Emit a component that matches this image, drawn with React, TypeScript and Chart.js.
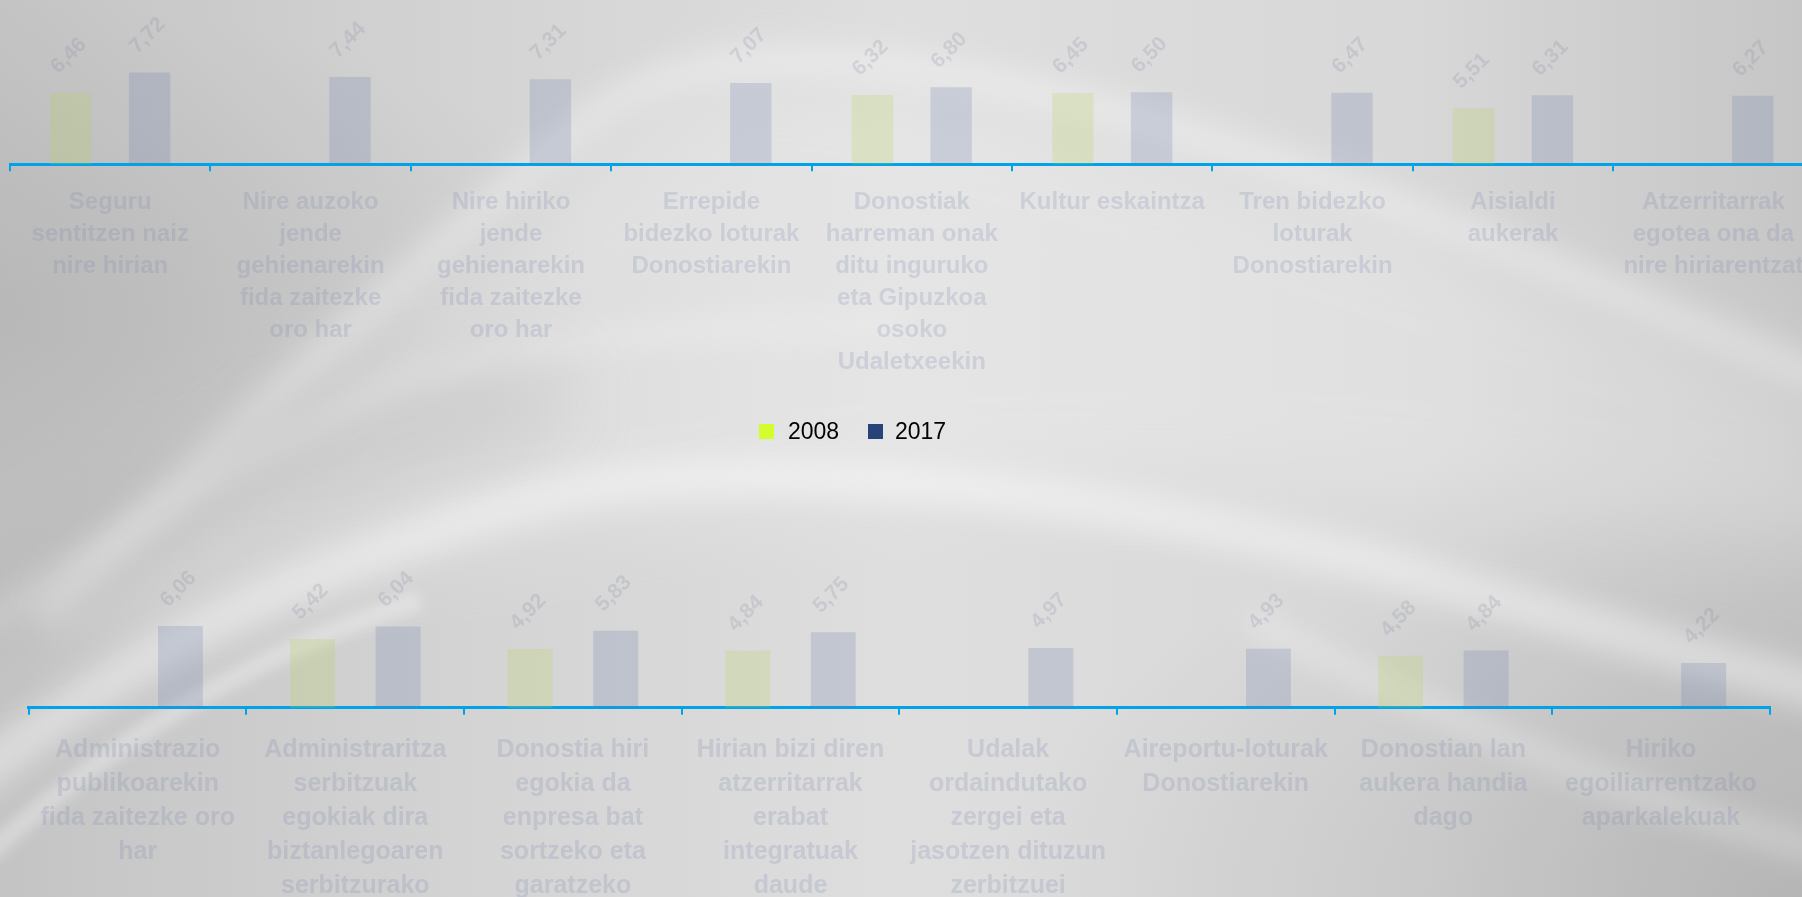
import React, { useEffect, useRef } from 'react';
import { Chart, registerables } from 'chart.js';

Chart.register(...registerables);

// ---------- data ----------
const seriesNames = ['2008', '2017'];

const topCategories: string[][] = [
  ['Seguru', 'sentitzen naiz', 'nire hirian'],
  ['Nire auzoko', 'jende', 'gehienarekin', 'fida zaitezke', 'oro har'],
  ['Nire hiriko', 'jende', 'gehienarekin', 'fida zaitezke', 'oro har'],
  ['Errepide', 'bidezko loturak', 'Donostiarekin'],
  ['Donostiak', 'harreman onak', 'ditu inguruko', 'eta Gipuzkoa', 'osoko', 'Udaletxeekin'],
  ['Kultur eskaintza'],
  ['Tren bidezko', 'loturak', 'Donostiarekin'],
  ['Aisialdi', 'aukerak'],
  ['Atzerritarrak', 'egotea ona da', 'nire hiriarentzat'],
];
const top2008: (number | null)[] = [6.46, null, null, null, 6.32, 6.45, null, 5.51, null];
const top2017: (number | null)[] = [7.72, 7.44, 7.31, 7.07, 6.8, 6.5, 6.47, 6.31, 6.27];

const bottomCategories: string[][] = [
  ['Administrazio', 'publikoarekin', 'fida zaitezke oro', 'har'],
  ['Administraritza', 'serbitzuak', 'egokiak dira', 'biztanlegoaren', 'serbitzurako'],
  ['Donostia hiri', 'egokia da', 'enpresa bat', 'sortzeko eta', 'garatzeko'],
  ['Hirian bizi diren', 'atzerritarrak', 'erabat', 'integratuak', 'daude'],
  ['Udalak', 'ordaindutako', 'zergei eta', 'jasotzen dituzun', 'zerbitzuei'],
  ['Aireportu-loturak', 'Donostiarekin'],
  ['Donostian lan', 'aukera handia', 'dago'],
  ['Hiriko', 'egoiliarrentzako', 'aparkalekuak'],
];
const bottom2008: (number | null)[] = [null, 5.42, 4.92, 4.84, null, null, 4.58, null];
const bottom2017: (number | null)[] = [6.06, 6.04, 5.83, 5.75, 4.97, 4.93, 4.84, 4.22];

// ---------- styles ----------
const legendColors = ['#d4fc2f', '#264478'];
const barFills = ['rgba(183,208,83,0.22)', 'rgba(105,125,170,0.22)'];
const AXIS = 'rgb(0,162,232)';
const LABEL = 'rgba(120,132,175,0.21)';
const VALUE_LABEL = 'rgba(120,128,160,0.2)';
const FONT = '"Liberation Sans", Arial, Helvetica, sans-serif';

const fmt = (v: number) => v.toFixed(2).replace('.', ',');

const valueLabelPlugin = {
  id: 'valueLabels',
  afterDatasetsDraw(chart: any) {
    const ctx = chart.ctx;
    chart.data.datasets.forEach((ds: any, i: number) => {
      const meta = chart.getDatasetMeta(i);
      meta.data.forEach((bar: any, j: number) => {
        const v = ds.data[j];
        if (v == null) return;
        ctx.save();
        ctx.translate(bar.x - 2, bar.y - 37);
        ctx.rotate(-Math.PI / 4);
        ctx.font = `bold 21px ${FONT}`;
        ctx.fillStyle = VALUE_LABEL;
        ctx.textAlign = 'center';
        ctx.textBaseline = 'middle';
        ctx.fillText(fmt(v), 0, 0);
        ctx.restore();
      });
    });
  },
};

type PanelProps = {
  labels: string[][];
  a: (number | null)[];
  b: (number | null)[];
  left: number;
  top: number;
  width: number;
  height: number;
  padding: { left: number; right: number; top: number; bottom: number };
  yMax: number;
  axisHeight: number;
  fontSize: number;
  lineHeight: number;
  tickPad: number;
};

function BarPanel(p: PanelProps) {
  const ref = useRef<HTMLCanvasElement>(null);
  useEffect(() => {
    const chart = new Chart(ref.current as HTMLCanvasElement, {
      type: 'bar',
      data: {
        labels: p.labels,
        datasets: [
          { label: seriesNames[0], data: p.a, backgroundColor: barFills[0] },
          { label: seriesNames[1], data: p.b, backgroundColor: barFills[1] },
        ],
      },
      options: {
        animation: false,
        responsive: false,
        maintainAspectRatio: false,
        devicePixelRatio: 1,
        layout: { padding: p.padding },
        datasets: { bar: { categoryPercentage: 0.786, barPercentage: 0.525 } },
        plugins: { legend: { display: false }, tooltip: { enabled: false } },
        scales: {
          x: {
            z: 1,
            grid: {
              offset: true,
              drawOnChartArea: false,
              drawTicks: true,
              tickLength: 7,
              color: AXIS,
              lineWidth: 2,
            },
            border: { display: true, color: AXIS, width: 3 },
            ticks: {
              autoSkip: false,
              maxRotation: 0,
              minRotation: 0,
              padding: p.tickPad,
              color: LABEL,
              font: { family: FONT, size: p.fontSize, weight: 'bold', lineHeight: p.lineHeight },
            },
            afterFit: (s: any) => {
              s.height = p.axisHeight;
            },
          },
          y: { display: false, min: 2, max: p.yMax },
        },
      } as any,
      plugins: [valueLabelPlugin],
    });
    return () => chart.destroy();
  }, []);
  return (
    <canvas
      ref={ref}
      width={p.width}
      height={p.height}
      style={{ position: 'absolute', left: p.left, top: p.top, width: p.width, height: p.height, display: 'block' }}
    />
  );
}

function Background() {
  return (
    <svg width={1802} height={897} style={{ position: 'absolute', left: 0, top: 0 }}>
      <defs>
        <linearGradient id="bgg" x1="0" y1="0" x2="1" y2="0">
          <stop offset="0" stopColor="#c4c4c4" />
          <stop offset="0.25" stopColor="#d3d3d3" />
          <stop offset="0.5" stopColor="#dedede" />
          <stop offset="0.78" stopColor="#d8d8d8" />
          <stop offset="1" stopColor="#c6c6c6" />
        </linearGradient>
        <radialGradient id="br" cx="1" cy="1" r="0.45">
          <stop offset="0" stopColor="#a8a8a8" stopOpacity="0.55" />
          <stop offset="1" stopColor="#a8a8a8" stopOpacity="0" />
        </radialGradient>
        <radialGradient id="tl" cx="0" cy="0.35" r="0.35">
          <stop offset="0" stopColor="#a8a8a8" stopOpacity="0.45" />
          <stop offset="1" stopColor="#a8a8a8" stopOpacity="0" />
        </radialGradient>
        <filter id="b40" x="-20%" y="-50%" width="140%" height="200%">
          <feGaussianBlur stdDeviation="40" />
        </filter>
        <filter id="b14" x="-20%" y="-50%" width="140%" height="200%">
          <feGaussianBlur stdDeviation="14" />
        </filter>
        <filter id="b6" x="-20%" y="-50%" width="140%" height="200%">
          <feGaussianBlur stdDeviation="6" />
        </filter>
      </defs>
      <rect x={0} y={0} width={1802} height={897} fill="url(#bgg)" />
      <rect x={0} y={0} width={1802} height={897} fill="url(#tl)" />
      <rect x={0} y={0} width={1802} height={897} fill="url(#br)" />
      {/* light hill interior */}
      <path
        d="M 69 600 C 200 470, 470 220, 713 70 C 1000 70, 1300 190, 1850 380 L 1850 560 C 1400 470, 900 430, 69 640 Z"
        fill="#ffffff"
        opacity={0.22}
        filter="url(#b40)"
      />
      {/* hill edge */}
      <path
        d="M 40 620 C 180 480, 420 260, 600 110 C 680 60, 760 55, 850 62 C 1100 80, 1400 200, 1850 390"
        stroke="#ffffff"
        strokeWidth={30}
        fill="none"
        opacity={0.3}
        filter="url(#b14)"
      />
      {/* dark band between swooshes on the left */}
      <path
        d="M -60 640 C 120 520, 300 430, 560 400"
        stroke="#9a9a9a"
        strokeWidth={70}
        fill="none"
        opacity={0.22}
        filter="url(#b40)"
      />
      {/* band A */}
      <path
        d="M -40 640 C 80 560, 230 460, 402 380 C 520 340, 700 325, 900 324"
        stroke="#ffffff"
        strokeWidth={22}
        fill="none"
        opacity={0.22}
        filter="url(#b14)"
      />
      {/* band B */}
      <path
        d="M -40 790 C 120 660, 300 560, 574 490 C 760 460, 1050 480, 1380 565 C 1560 615, 1700 660, 1860 700"
        stroke="#ffffff"
        strokeWidth={40}
        fill="none"
        opacity={0.4}
        filter="url(#b14)"
      />
      {/* lower-left streak */}
      <path
        d="M -60 900 C 80 760, 230 660, 420 600"
        stroke="#ffffff"
        strokeWidth={20}
        fill="none"
        opacity={0.3}
        filter="url(#b6)"
      />
      {/* lower-right streak */}
      <path
        d="M 1250 620 C 1450 720, 1620 800, 1860 860"
        stroke="#ffffff"
        strokeWidth={24}
        fill="none"
        opacity={0.3}
        filter="url(#b14)"
      />
    </svg>
  );
}

function Legend() {
  const items = [
    { sq: 759, tx: 788 },
    { sq: 868, tx: 895 },
  ];
  return (
    <>
      {seriesNames.map((name, i) => (
        <React.Fragment key={name}>
          <div
            style={{
              position: 'absolute',
              left: items[i].sq,
              top: 424,
              width: 15,
              height: 15,
              background: legendColors[i],
            }}
          />
          <div
            style={{
              position: 'absolute',
              left: items[i].tx,
              top: 420,
              fontFamily: FONT,
              fontSize: 23,
              lineHeight: '23px',
              color: '#000',
              whiteSpace: 'nowrap',
            }}
          >
            {name}
          </div>
        </React.Fragment>
      ))}
    </>
  );
}

export default function App() {
  return (
    <div
      style={{
        position: 'fixed',
        left: 0,
        top: 0,
        width: 1802,
        height: 897,
        overflow: 'hidden',
        background: '#d8d8d8',
      }}
    >
      <Background />
      <BarPanel
        labels={topCategories}
        a={top2008}
        b={top2017}
        left={0}
        top={0}
        width={1830}
        height={480}
        padding={{ left: 10, right: 16.4, top: 4, bottom: 0 }}
        yMax={12}
        axisHeight={480 - 164.3}
        fontSize={24}
        lineHeight={32 / 24}
        tickPad={15}
      />
      <BarPanel
        labels={bottomCategories}
        a={bottom2008}
        b={bottom2017}
        left={0}
        top={500}
        width={1802}
        height={397}
        padding={{ left: 28.9, right: 32.3, top: 6.7, bottom: 0 }}
        yMax={12}
        axisHeight={397 - 207.7}
        fontSize={25}
        lineHeight={34 / 25}
        tickPad={18}
      />
      <Legend />
    </div>
  );
}
